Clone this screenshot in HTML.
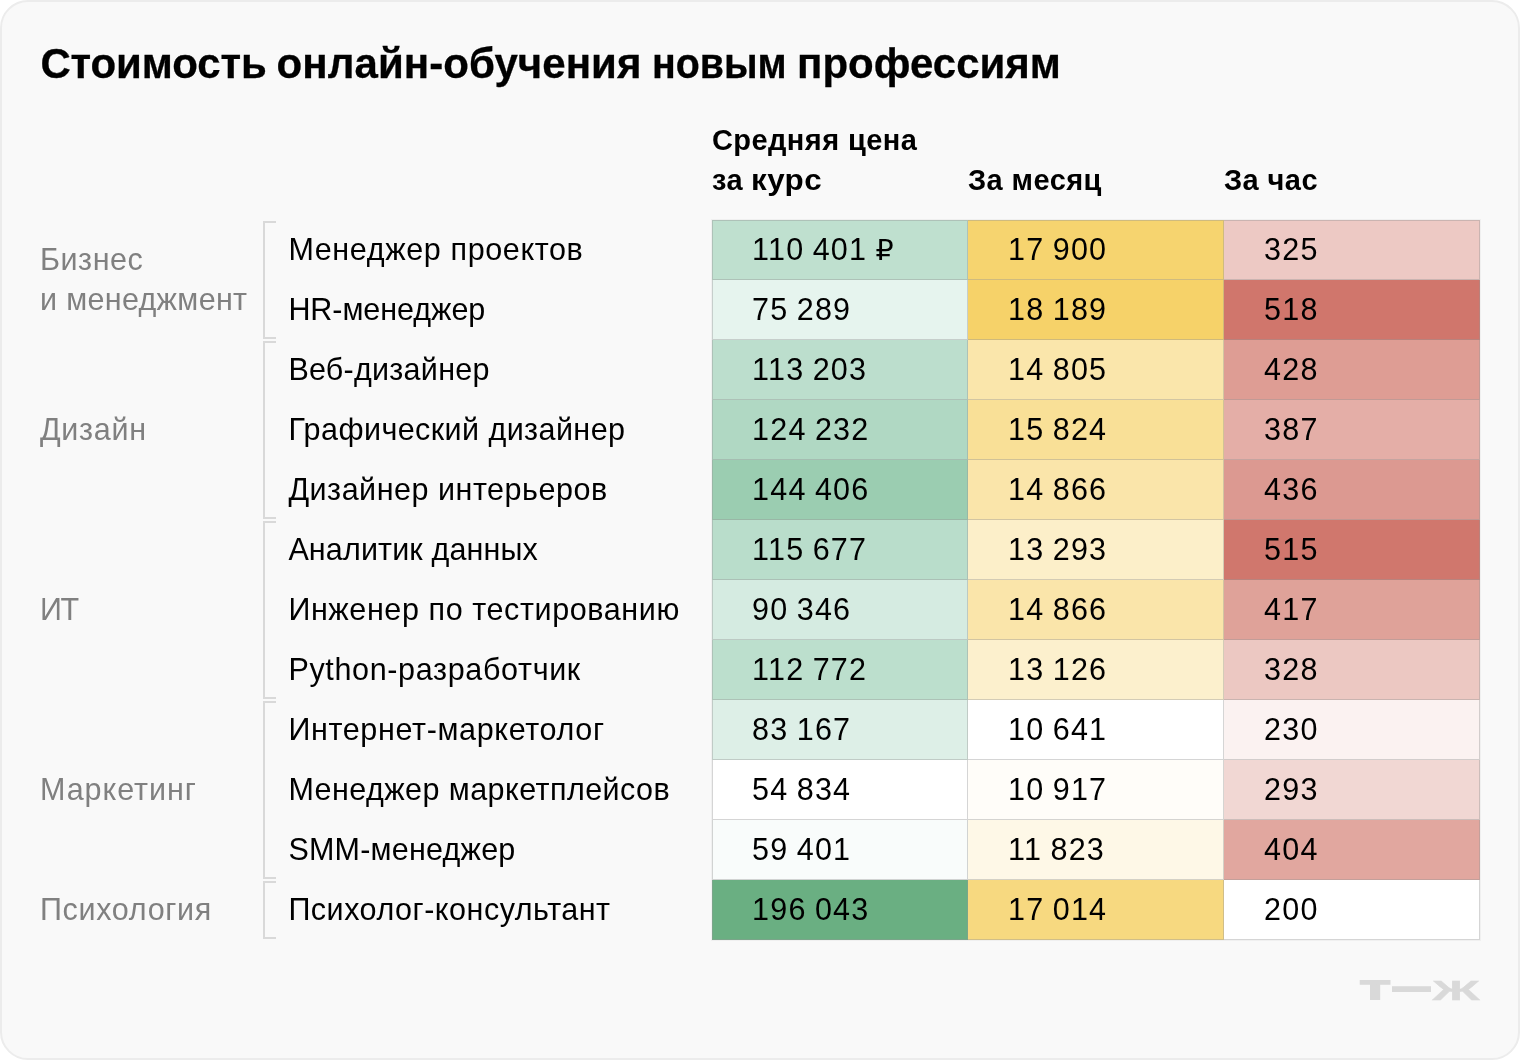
<!DOCTYPE html>
<html lang="ru"><head><meta charset="utf-8"><title>Стоимость онлайн-обучения новым профессиям</title>
<style>
html,body{margin:0;padding:0;background:#fff;}
body{width:1520px;height:1060px;position:relative;overflow:hidden;font-family:"Liberation Sans","DejaVu Sans",sans-serif;color:#000;}
.card{position:absolute;left:0;top:0;width:1520px;height:1060px;border:2px solid #ececec;border-radius:28px;background:#f9f9f9;box-sizing:border-box;}
.t{position:absolute;white-space:nowrap;}
h1{position:absolute;left:40px;top:38.5px;width:1100px;height:50px;margin:0;font-size:42px;line-height:50px;font-weight:700;white-space:nowrap;-webkit-text-stroke:0.3px #000;}
h1 span{position:absolute;top:0;display:block;}
.hd{font-weight:700;font-size:29px;line-height:40px;letter-spacing:0.42px;}
.cat{color:#808080;font-size:30.5px;line-height:40px;left:40px;letter-spacing:0.45px;}
.lab{font-size:30.5px;line-height:58px;left:288.4px;height:60px;letter-spacing:0.57px;}
.cell{position:absolute;width:256px;height:60px;box-sizing:border-box;border:0 solid rgba(150,150,150,.40);border-right-width:1px;border-bottom-width:1px;font-size:30.5px;line-height:58px;padding-left:40px;white-space:nowrap;letter-spacing:1.24px;word-spacing:-1.4px;}
.cell.c0{border-left-width:1px;padding-left:39px;}
.cell.r0{border-top-width:1px;line-height:56px;}
.br{position:absolute;left:263px;width:11px;border:2px solid #d9d9d9;border-right:0;box-sizing:content-box;}
.logo{position:absolute;left:1340px;top:970px;width:160px;height:40px;}
</style></head><body>
<div class="card"></div>
<div style="position:absolute;left:712px;top:220px;width:768px;height:720px;box-shadow:0 0 0 1px rgba(0,0,0,.035)"></div>
<h1><span style="left:0.4px;letter-spacing:-0.11px">Стоимость</span> <span style="left:236.6px;letter-spacing:0.06px">онлайн-обучения</span> <span style="left:612.1px;transform:scaleX(0.937);transform-origin:0 50%">новым</span> <span style="left:757.1px">профессиям</span></h1>
<div class="t hd" style="left:712px;top:120px">Средняя цена<br>за <span style="display:inline-block;transform:scaleX(1.081);transform-origin:0 50%">курс</span></div>
<div class="t hd" style="left:968px;top:160px">За месяц</div>
<div class="t hd" style="left:1224px;top:160px">За час</div>

<div class="t cat" style="top:238.8px"><span style="letter-spacing:0.53px">Бизнес</span><br><span style="letter-spacing:0.32px">и менеджмент</span></div>
<div class="br" style="top:221px;height:114px"></div>
<div class="t cat" style="top:408.8px"><span style="letter-spacing:0.69px">Дизайн</span></div>
<div class="br" style="top:341px;height:174px"></div>
<div class="t cat" style="top:588.8px"><span style="letter-spacing:-1.5px">ИТ</span></div>
<div class="br" style="top:521px;height:174px"></div>
<div class="t cat" style="top:768.8px"><span style="letter-spacing:0.95px">Маркетинг</span></div>
<div class="br" style="top:701px;height:174px"></div>
<div class="t cat" style="top:888.8px"><span style="letter-spacing:0.68px">Психология</span></div>
<div class="br" style="top:881px;height:54px"></div>
<div class="t lab" style="top:220px;letter-spacing:0.63px">Менеджер проектов</div>
<div class="cell c0 r0" style="left:712px;top:220px;background:#bfe0cf">110 401 <span style="font-size:28.5px;letter-spacing:0">₽</span></div>
<div class="cell r0" style="left:968px;top:220px;background:#f6d46f">17 900</div>
<div class="cell r0" style="left:1224px;top:220px;background:#edc9c4">325</div>
<div class="t lab" style="top:280px;letter-spacing:-0.05px">HR-менеджер</div>
<div class="cell c0" style="left:712px;top:280px;background:#e6f4ee">75 289</div>
<div class="cell" style="left:968px;top:280px;background:#f6d269">18 189</div>
<div class="cell" style="left:1224px;top:280px;background:#d0766c">518</div>
<div class="t lab" style="top:340px;letter-spacing:0.26px">Веб-дизайнер</div>
<div class="cell c0" style="left:712px;top:340px;background:#bcdecd">113 203</div>
<div class="cell" style="left:968px;top:340px;background:#fae6ab">14 805</div>
<div class="cell" style="left:1224px;top:340px;background:#de9d94">428</div>
<div class="t lab" style="top:400px;letter-spacing:0.43px">Графический дизайнер</div>
<div class="cell c0" style="left:712px;top:400px;background:#b0d8c3">124 232</div>
<div class="cell" style="left:968px;top:400px;background:#f9e097">15 824</div>
<div class="cell" style="left:1224px;top:400px;background:#e4aea7">387</div>
<div class="t lab" style="top:460px;letter-spacing:0.52px">Дизайнер интерьеров</div>
<div class="cell c0" style="left:712px;top:460px;background:#9bcdb1">144 406</div>
<div class="cell" style="left:968px;top:460px;background:#fae5aa">14 866</div>
<div class="cell" style="left:1224px;top:460px;background:#dc9991">436</div>
<div class="t lab" style="top:520px;letter-spacing:0.14px">Аналитик данных</div>
<div class="cell c0" style="left:712px;top:520px;background:#b9ddcb">115 677</div>
<div class="cell" style="left:968px;top:520px;background:#fcefc9">13 293</div>
<div class="cell" style="left:1224px;top:520px;background:#d0776d">515</div>
<div class="t lab" style="top:580px;letter-spacing:0.6px">Инженер по тестированию</div>
<div class="cell c0" style="left:712px;top:580px;background:#d5ebe1">90 346</div>
<div class="cell" style="left:968px;top:580px;background:#fae5aa">14 866</div>
<div class="cell" style="left:1224px;top:580px;background:#dfa299">417</div>
<div class="t lab" style="top:640px;letter-spacing:0.66px">Python-разработчик</div>
<div class="cell c0" style="left:712px;top:640px;background:#bcdfcd">112 772</div>
<div class="cell" style="left:968px;top:640px;background:#fcf0cd">13 126</div>
<div class="cell" style="left:1224px;top:640px;background:#ecc8c2">328</div>
<div class="t lab" style="top:700px;letter-spacing:0.65px">Интернет-маркетолог</div>
<div class="cell c0" style="left:712px;top:700px;background:#ddefe7">83 167</div>
<div class="cell" style="left:968px;top:700px;background:#ffffff">10 641</div>
<div class="cell" style="left:1224px;top:700px;background:#fbf2f1">230</div>
<div class="t lab" style="top:760px;letter-spacing:0.44px">Менеджер маркетплейсов</div>
<div class="cell c0" style="left:712px;top:760px;background:#ffffff">54 834</div>
<div class="cell" style="left:968px;top:760px;background:#fffdf9">10 917</div>
<div class="cell" style="left:1224px;top:760px;background:#f1d7d3">293</div>
<div class="t lab" style="top:820px;letter-spacing:0.22px">SMM-менеджер</div>
<div class="cell c0" style="left:712px;top:820px;background:#f9fcfb">59 401</div>
<div class="cell" style="left:968px;top:820px;background:#fef8e7">11 823</div>
<div class="cell" style="left:1224px;top:820px;background:#e1a79f">404</div>
<div class="t lab" style="top:880px;letter-spacing:0.52px">Психолог-консультант</div>
<div class="cell c0" style="left:712px;top:880px;background:#6aaf82">196 043</div>
<div class="cell" style="left:968px;top:880px;background:#f7d980">17 014</div>
<div class="cell" style="left:1224px;top:880px;background:#ffffff">200</div>
<div class="logo"><svg width="160" height="40" viewBox="0 0 160 40" font-family="Liberation Sans, sans-serif" font-weight="700" fill="#d9d9d9"><text transform="translate(20.88,28.60) scale(1.8476,1)" font-size="25.00" stroke="#d9d9d9" stroke-width="2.8" vector-effect="non-scaling-stroke" stroke-linejoin="miter">Т</text><text transform="translate(52.00,34.96) scale(0.6903,1)" font-size="56.50">—</text><text transform="translate(92.45,29.70) scale(1.8439,1)" font-size="28.20" stroke="#d9d9d9" stroke-width="0.6" vector-effect="non-scaling-stroke" stroke-linejoin="miter">Ж</text></svg></div>
</body></html>
